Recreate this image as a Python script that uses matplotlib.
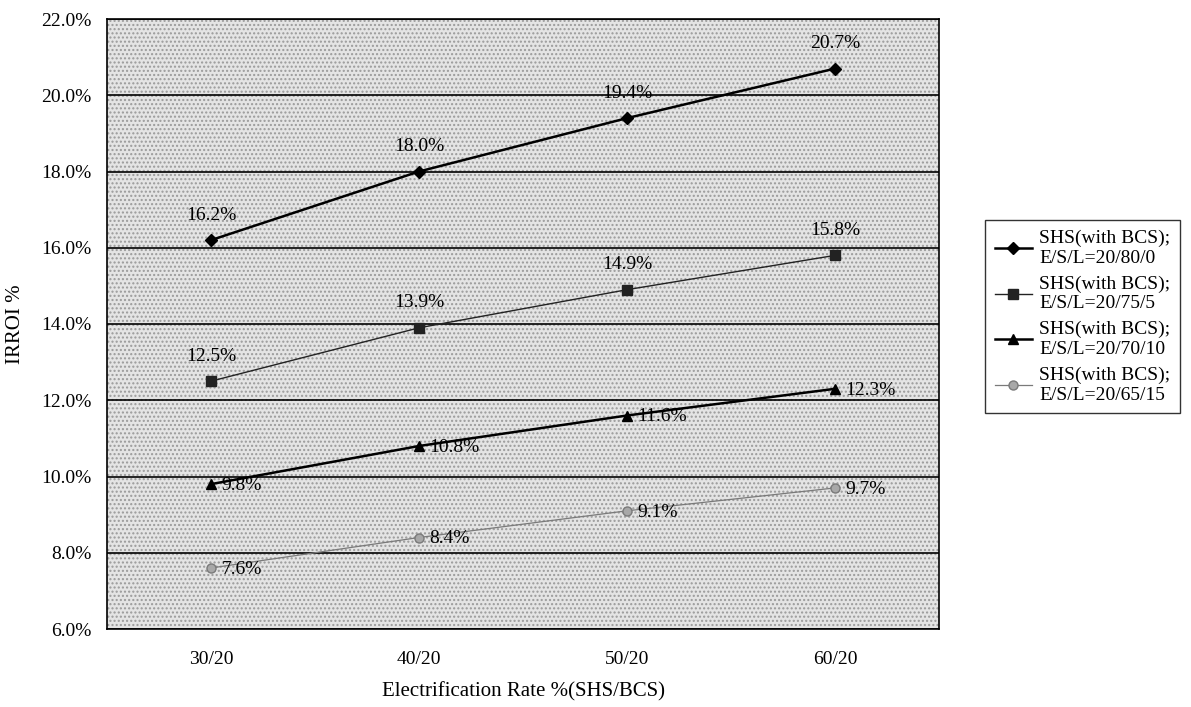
import matplotlib.pyplot as plt
from matplotlib.patches import Rectangle
from matplotlib.ticker import FuncFormatter, MultipleLocator

# ── Data ────────────────────────────────────────────────────────────────────
categories = ["30/20", "40/20", "50/20", "60/20"]
s_80_0 = [16.2, 18.0, 19.4, 20.7]
s_75_5 = [12.5, 13.9, 14.9, 15.8]
s_70_10 = [9.8, 10.8, 11.6, 12.3]
s_65_15 = [7.6, 8.4, 9.1, 9.7]
labels = ["SHS(with BCS);\nE/S/L=20/80/0", "SHS(with BCS);\nE/S/L=20/75/5",
          "SHS(with BCS);\nE/S/L=20/70/10", "SHS(with BCS);\nE/S/L=20/65/15"]

plt.rcParams.update({"font.family": "Liberation Serif", "font.size": 14})

fig = plt.figure(figsize=(11.91, 7.07), dpi=100)
ax = fig.add_axes([107 / 1191, 1 - 629 / 707, 832 / 1191, 610 / 707])

# dotted grey plot area, like the scanned original
ax.set_facecolor("#e4e4e4")
ax.add_patch(Rectangle((0, 0), 1, 1, transform=ax.transAxes, facecolor="none",
                       edgecolor="#9a9a9a", hatch="....", linewidth=0, zorder=0))

x = range(len(categories))
styles = [
    # values, marker, line colour, lw, markersize, marker face
    (s_80_0, "D", "black", 1.8, 6.5, "black"),
    (s_75_5, "s", "#222222", 1.0, 7, "#222222"),
    (s_70_10, "^", "black", 1.8, 7, "black"),
    (s_65_15, "o", "#7a7a7a", 0.9, 6.5, "#a8a8a8"),
]
for (vals, mk, col, lw, ms, mfc), lab in zip(styles, labels):
    ax.plot(x, vals, marker=mk, color=col, linewidth=lw, markersize=ms,
            markerfacecolor=mfc, markeredgecolor=col, label=lab, zorder=3)

# data labels: first two series above the points, the others to the right
for vals in (s_80_0, s_75_5):
    for i, v in enumerate(vals):
        ax.annotate(f"{v:.1f}%", (i, v), xytext=(0, 18), textcoords="offset points",
                    ha="center", va="center")
for vals in (s_70_10, s_65_15):
    for i, v in enumerate(vals):
        ax.annotate(f"{v:.1f}%", (i, v), xytext=(7.5, -1), textcoords="offset points",
                    ha="left", va="center")

ax.set_ylim(6, 22)
ax.yaxis.set_major_locator(MultipleLocator(2))
ax.yaxis.set_major_formatter(FuncFormatter(lambda v, _: f"{v:.1f}%"))
ax.grid(axis="y", color="black", linewidth=1.2)
ax.set_axisbelow(True)
ax.set_xlim(-0.5, 3.5)
ax.set_xticks(list(x))
ax.set_xticklabels(categories)
ax.tick_params(axis="y", length=0, pad=11)
ax.tick_params(axis="x", length=0, pad=16)
for sp in ax.spines.values():
    sp.set_color("black")
    sp.set_linewidth(1.2)

ax.set_ylabel("IRROI %", fontsize=15)
ax.yaxis.set_label_coords(-0.098, 0.5)
ax.set_xlabel("Electrification Rate %(SHS/BCS)", labelpad=10, fontsize=15)

leg = fig.legend(loc="upper left", bbox_to_anchor=(985 / 1191, 1 - 220 / 707),
                 frameon=True, fancybox=False, edgecolor="black", fontsize=14,
                 handlelength=1.9, labelspacing=0.45, borderpad=0.5,
                 handletextpad=0.4, borderaxespad=0)
leg.get_frame().set_linewidth(1.0)

fig.savefig("out.png", dpi=100)
